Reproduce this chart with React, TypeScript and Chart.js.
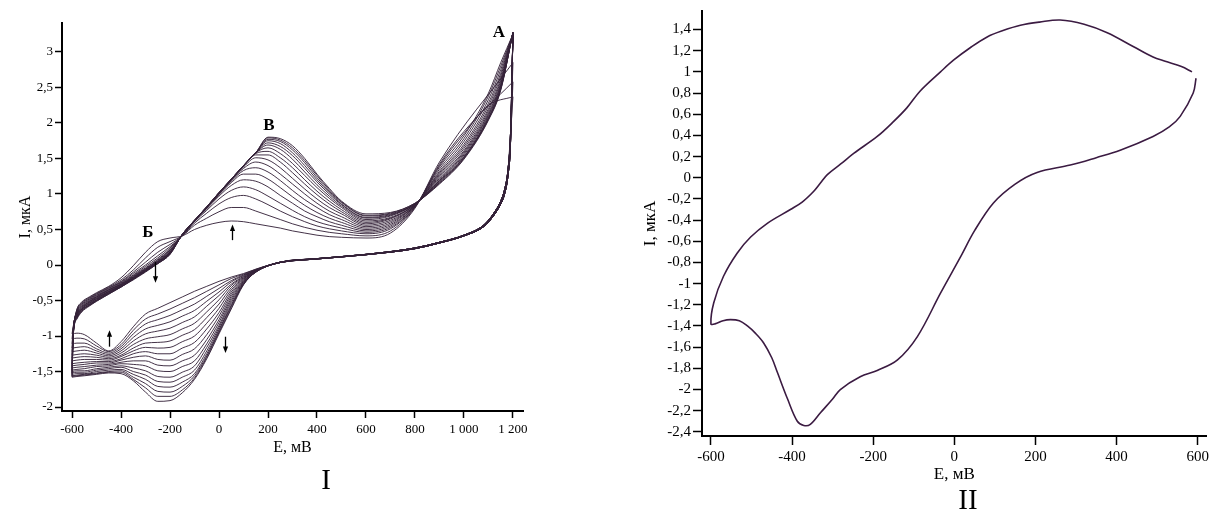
import React, { useEffect, useRef } from 'react';
import { Chart, registerables } from 'chart.js';

Chart.register(...registerables);

const SERIF = "'Liberation Serif', 'Times New Roman', serif";

// ---------------- Panel I: cyclic voltammograms, 18 cycles ----------------
const forwardPotentials = [-600, -595, -580, -560, -530, -500, -450, -400, -350, -300, -250, -200, -150, -100, -50, 0, 50, 100, 150, 200, 250, 300, 350, 400, 450, 500, 600, 700, 800, 900, 1000, 1100, 1150, 1200];

const forwardCurrents: (number | null)[][] = [
  [-0.97, -0.86, -0.62, -0.52, -0.45, -0.39, -0.30, -0.18, -0.01, 0.18, 0.33, 0.38, 0.41, 0.50, 0.56, 0.60, 0.62, 0.61, 0.58, 0.55, 0.52, 0.48, 0.45, 0.42, 0.40, 0.39, 0.38, 0.45, 0.80, 1.45, null, null, null, 2.85],
  [-1.04, -0.88, -0.63, -0.53, -0.46, -0.40, -0.31, -0.21, -0.07, 0.10, 0.25, 0.33, 0.41, 0.56, 0.66, 0.75, 0.81, 0.81, 0.76, 0.70, 0.64, 0.58, 0.53, 0.49, 0.46, 0.44, 0.41, 0.48, 0.81, 1.42, 1.88, null, null, 2.58],
  [-1.11, -0.89, -0.64, -0.54, -0.47, -0.41, -0.32, -0.23, -0.10, 0.04, 0.18, 0.29, 0.41, 0.59, 0.73, 0.86, 0.95, 0.98, 0.93, 0.85, 0.76, 0.68, 0.61, 0.55, 0.51, 0.48, 0.44, 0.51, 0.82, 1.40, 1.85, 2.25, null, 2.37],
  [-1.17, -0.90, -0.65, -0.55, -0.48, -0.42, -0.33, -0.24, -0.12, 0.00, 0.13, 0.26, 0.41, 0.61, 0.77, 0.93, 1.05, 1.10, 1.06, 0.97, 0.87, 0.77, 0.68, 0.61, 0.56, 0.52, 0.46, 0.53, 0.82, 1.38, 1.82, 2.42, 2.85, 3.25],
  [-1.22, -0.91, -0.66, -0.56, -0.49, -0.43, -0.34, -0.25, -0.14, -0.02, 0.10, 0.24, 0.42, 0.62, 0.79, 0.97, 1.12, 1.20, 1.18, 1.10, 0.98, 0.87, 0.76, 0.68, 0.61, 0.56, 0.48, 0.55, 0.83, 1.35, 1.78, 2.38, 2.80, 3.25],
  [-1.27, -0.92, -0.67, -0.57, -0.50, -0.44, -0.35, -0.26, -0.15, -0.04, 0.08, 0.22, 0.42, 0.62, 0.80, 0.99, 1.16, 1.28, 1.28, 1.21, 1.09, 0.96, 0.84, 0.74, 0.66, 0.60, 0.50, 0.57, 0.83, 1.32, 1.74, 2.33, 2.75, 3.26],
  [-1.31, -0.93, -0.68, -0.58, -0.51, -0.45, -0.35, -0.27, -0.16, -0.05, 0.07, 0.21, 0.42, 0.62, 0.81, 1.00, 1.18, 1.33, 1.37, 1.31, 1.19, 1.05, 0.92, 0.81, 0.71, 0.64, 0.52, 0.59, 0.84, 1.30, 1.70, 2.28, 2.70, 3.26],
  [-1.35, -0.94, -0.69, -0.59, -0.52, -0.45, -0.36, -0.27, -0.17, -0.06, 0.06, 0.20, 0.42, 0.62, 0.81, 1.00, 1.19, 1.36, 1.45, 1.40, 1.28, 1.14, 1.00, 0.87, 0.76, 0.68, 0.54, 0.61, 0.84, 1.28, 1.67, 2.24, 2.66, 3.26],
  [-1.39, -0.94, -0.70, -0.60, -0.52, -0.46, -0.37, -0.28, -0.17, -0.06, 0.05, 0.19, 0.42, 0.62, 0.81, 1.01, 1.20, 1.38, 1.51, 1.48, 1.37, 1.22, 1.07, 0.93, 0.81, 0.72, 0.56, 0.63, 0.84, 1.26, 1.64, 2.20, 2.62, 3.26],
  [-1.42, -0.95, -0.70, -0.60, -0.53, -0.47, -0.37, -0.28, -0.18, -0.07, 0.05, 0.18, 0.42, 0.62, 0.81, 1.01, 1.20, 1.39, 1.55, 1.55, 1.45, 1.30, 1.14, 0.99, 0.86, 0.75, 0.58, 0.65, 0.85, 1.24, 1.61, 2.17, 2.59, 3.26],
  [-1.45, -0.95, -0.71, -0.61, -0.54, -0.47, -0.38, -0.29, -0.18, -0.07, 0.04, 0.18, 0.42, 0.62, 0.81, 1.01, 1.20, 1.39, 1.57, 1.60, 1.51, 1.37, 1.20, 1.04, 0.90, 0.78, 0.60, 0.66, 0.85, 1.22, 1.59, 2.14, 2.56, 3.27],
  [-1.48, -0.96, -0.72, -0.62, -0.54, -0.48, -0.38, -0.29, -0.19, -0.08, 0.04, 0.17, 0.43, 0.62, 0.81, 1.01, 1.20, 1.40, 1.58, 1.65, 1.57, 1.43, 1.26, 1.09, 0.94, 0.81, 0.62, 0.67, 0.85, 1.20, 1.57, 2.12, 2.54, 3.27],
  [-1.50, -0.96, -0.72, -0.62, -0.55, -0.49, -0.39, -0.30, -0.19, -0.08, 0.03, 0.17, 0.43, 0.62, 0.81, 1.01, 1.20, 1.40, 1.58, 1.69, 1.63, 1.49, 1.31, 1.13, 0.97, 0.83, 0.64, 0.69, 0.86, 1.19, 1.55, 2.10, 2.52, 3.27],
  [-1.52, -0.97, -0.73, -0.63, -0.56, -0.49, -0.39, -0.30, -0.19, -0.08, 0.03, 0.16, 0.43, 0.63, 0.82, 1.01, 1.21, 1.40, 1.58, 1.72, 1.67, 1.54, 1.36, 1.17, 1.00, 0.85, 0.66, 0.70, 0.86, 1.18, 1.53, 2.08, 2.50, 3.27],
  [-1.54, -0.97, -0.74, -0.64, -0.56, -0.50, -0.40, -0.30, -0.20, -0.09, 0.03, 0.16, 0.43, 0.63, 0.82, 1.02, 1.21, 1.40, 1.58, 1.75, 1.71, 1.58, 1.40, 1.20, 1.02, 0.86, 0.67, 0.71, 0.86, 1.17, 1.52, 2.07, 2.49, 3.27],
  [-1.56, -0.98, -0.74, -0.64, -0.57, -0.50, -0.40, -0.31, -0.20, -0.09, 0.02, 0.16, 0.43, 0.63, 0.82, 1.02, 1.21, 1.40, 1.58, 1.77, 1.74, 1.62, 1.44, 1.23, 1.04, 0.88, 0.69, 0.72, 0.86, 1.16, 1.51, 2.06, 2.48, 3.27],
  [-1.57, -0.98, -0.75, -0.65, -0.57, -0.51, -0.41, -0.31, -0.20, -0.09, 0.02, 0.15, 0.43, 0.63, 0.82, 1.02, 1.21, 1.40, 1.58, 1.79, 1.76, 1.65, 1.47, 1.26, 1.06, 0.89, 0.70, 0.73, 0.87, 1.15, 1.50, 2.05, 2.47, 3.28],
  [-1.58, -0.99, -0.76, -0.66, -0.58, -0.51, -0.41, -0.31, -0.21, -0.10, 0.02, 0.15, 0.43, 0.63, 0.82, 1.02, 1.21, 1.40, 1.58, 1.80, 1.78, 1.68, 1.50, 1.28, 1.08, 0.90, 0.72, 0.74, 0.87, 1.14, 1.49, 2.04, 2.46, 3.28],
];

// reverse scan, common high-potential part (two slightly different groups of cycles)
const reverseRightPotentials = [1190, 1180, 1165, 1150, 1120, 1080, 1000, 900, 800, 600, 400, 250];
const reverseRightA = [1.85, 1.35, 1.05, 0.90, 0.72, 0.56, 0.42, 0.32, 0.24, 0.15, 0.09, 0.04];
const reverseRightB = [1.72, 1.27, 0.99, 0.86, 0.69, 0.54, 0.41, 0.31, 0.23, 0.145, 0.085, 0.035];

// reverse scan, low-potential part, per cycle
const reverseLeftPotentials = [150, 100, 50, 0, -50, -100, -150, -200, -250, -300, -350, -400, -450, -500, -550, -580, -600];
const reverseLeftCurrents: number[][] = [
  [-0.06, -0.12, -0.17, -0.23, -0.30, -0.37, -0.45, -0.53, -0.61, -0.69, -0.87, -1.08, -1.21, -1.10, -0.98, -0.96, -0.97],
  [-0.06, -0.13, -0.19, -0.28, -0.37, -0.46, -0.54, -0.62, -0.69, -0.76, -0.92, -1.12, -1.22, -1.14, -1.04, -1.03, -1.04],
  [-0.07, -0.14, -0.22, -0.33, -0.44, -0.55, -0.63, -0.71, -0.77, -0.83, -0.97, -1.15, -1.24, -1.18, -1.10, -1.10, -1.11],
  [-0.07, -0.15, -0.24, -0.38, -0.51, -0.64, -0.72, -0.80, -0.85, -0.90, -1.02, -1.18, -1.26, -1.21, -1.15, -1.16, -1.17],
  [-0.07, -0.16, -0.27, -0.43, -0.58, -0.73, -0.81, -0.89, -0.93, -0.97, -1.07, -1.21, -1.28, -1.24, -1.20, -1.21, -1.22],
  [-0.07, -0.17, -0.29, -0.49, -0.66, -0.82, -0.90, -0.98, -1.01, -1.04, -1.12, -1.24, -1.30, -1.27, -1.25, -1.26, -1.27],
  [-0.08, -0.18, -0.32, -0.55, -0.74, -0.91, -0.99, -1.07, -1.09, -1.10, -1.17, -1.27, -1.32, -1.30, -1.29, -1.30, -1.31],
  [-0.08, -0.19, -0.35, -0.61, -0.82, -1.00, -1.08, -1.16, -1.17, -1.16, -1.21, -1.29, -1.34, -1.33, -1.33, -1.34, -1.35],
  [-0.08, -0.20, -0.38, -0.67, -0.90, -1.09, -1.17, -1.25, -1.25, -1.22, -1.25, -1.32, -1.36, -1.36, -1.37, -1.38, -1.39],
  [-0.08, -0.21, -0.41, -0.72, -0.98, -1.18, -1.26, -1.34, -1.33, -1.28, -1.30, -1.34, -1.38, -1.38, -1.40, -1.41, -1.42],
  [-0.09, -0.22, -0.44, -0.77, -1.05, -1.27, -1.35, -1.42, -1.41, -1.35, -1.35, -1.37, -1.40, -1.41, -1.43, -1.44, -1.45],
  [-0.09, -0.23, -0.47, -0.81, -1.11, -1.35, -1.43, -1.50, -1.49, -1.42, -1.40, -1.39, -1.42, -1.43, -1.46, -1.47, -1.48],
  [-0.09, -0.24, -0.50, -0.85, -1.16, -1.42, -1.51, -1.58, -1.57, -1.49, -1.45, -1.42, -1.44, -1.46, -1.49, -1.49, -1.50],
  [-0.09, -0.25, -0.53, -0.88, -1.21, -1.48, -1.58, -1.65, -1.64, -1.55, -1.50, -1.44, -1.46, -1.48, -1.51, -1.51, -1.52],
  [-0.10, -0.26, -0.56, -0.91, -1.25, -1.53, -1.65, -1.72, -1.71, -1.61, -1.54, -1.47, -1.48, -1.50, -1.53, -1.53, -1.54],
  [-0.10, -0.27, -0.58, -0.93, -1.28, -1.56, -1.71, -1.79, -1.78, -1.67, -1.58, -1.49, -1.50, -1.52, -1.54, -1.55, -1.56],
  [-0.10, -0.27, -0.60, -0.95, -1.30, -1.59, -1.76, -1.85, -1.85, -1.73, -1.61, -1.51, -1.51, -1.53, -1.55, -1.56, -1.57],
  [-0.10, -0.28, -0.62, -0.97, -1.32, -1.61, -1.80, -1.91, -1.92, -1.79, -1.63, -1.53, -1.52, -1.54, -1.56, -1.57, -1.58],
];

const xTicksI = [-600, -400, -200, 0, 200, 400, 600, 800, 1000, 1200];
const xTickLabelsI = ['-600', '-400', '-200', '0', '200', '400', '600', '800', '1 000', '1 200'];
const yTicksI = [-2, -1.5, -1, -0.5, 0, 0.5, 1, 1.5, 2, 2.5, 3];
const yTickLabelsI = ['-2', '-1,5', '-1', '-0,5', '0', '0,5', '1', '1,5', '2', '2,5', '3'];

const peakLabels = ['А', 'Б', 'В'];
const peakLabelE = [1143, -290, 204];
const peakLabelI = [3.27, 0.45, 1.97];

const arrowE = [53, -261, -449, 24];
const arrowFromI = [0.35, 0.04, -1.15, -1.01];
const arrowToI = [0.57, -0.25, -0.92, -1.24];

// ---------------- Panel II: single voltammogram ----------------
const potentialsII = [586, 560, 520, 490, 441, 377, 320, 261, 210, 163, 120, 81, 40, -2, -34, -84, -117, -150, -190, -248, -280, -313, -330, -347, -375, -404, -461, -502, -535, -569, -593, -600, -590, -570, -552, -530, -510, -490, -470, -450, -436, -411, -387, -371, -355, -330, -300, -281, -232, -190, -140, -91, -34, 15, 50, 96, 150, 204, 286, 350, 409, 490, 530, 557, 589, 596];
const currentsII = [1.00, 1.05, 1.10, 1.14, 1.24, 1.37, 1.45, 1.49, 1.47, 1.44, 1.39, 1.33, 1.23, 1.11, 1.00, 0.82, 0.66, 0.53, 0.39, 0.23, 0.13, 0.03, -0.05, -0.13, -0.23, -0.30, -0.43, -0.56, -0.71, -0.93, -1.18, -1.38, -1.38, -1.35, -1.34, -1.35, -1.40, -1.47, -1.56, -1.70, -1.84, -2.09, -2.30, -2.34, -2.33, -2.22, -2.09, -2.00, -1.88, -1.82, -1.72, -1.50, -1.09, -0.75, -0.50, -0.24, -0.06, 0.05, 0.12, 0.19, 0.26, 0.39, 0.48, 0.58, 0.80, 0.94];

const xTicksII = [-600, -400, -200, 0, 200, 400, 600];
const xTickLabelsII = ['-600', '-400', '-200', '0', '200', '400', '600'];
const yTicksII = [-2.4, -2.2, -2, -1.8, -1.6, -1.4, -1.2, -1, -0.8, -0.6, -0.4, -0.2, 0, 0.2, 0.4, 0.6, 0.8, 1, 1.2, 1.4];
const yTickLabelsII = ['-2,4', '-2,2', '-2', '-1,8', '-1,6', '-1,4', '-1,2', '-1', '-0,8', '-0,6', '-0,4', '-0,2', '0', '0,2', '0,4', '0,6', '0,8', '1', '1,2', '1,4'];

// ---------------------------------------------------------------
const LINE_I = 'rgba(52, 34, 56, 0.92)';
const LINE_II = '#3b1b42';

function buildDatasetsI() {
  const sets: any[] = [];
  forwardCurrents.forEach((row, k) => {
    const fwd = forwardPotentials
      .map((e, i) => ({ x: e, y: row[i] }))
      .filter((p) => p.y !== null);
    const endValue = row[row.length - 1];
    const right = k % 2 === 0 ? reverseRightA : reverseRightB;
    const rev = [{ x: 1200, y: endValue }]
      .concat(reverseRightPotentials.map((e, i) => ({ x: e, y: right[i] })))
      .concat(reverseLeftPotentials.map((e, i) => ({ x: e, y: reverseLeftCurrents[k][i] })));
    const common = {
      showLine: true,
      borderColor: LINE_I,
      borderWidth: 1,
      pointRadius: 0,
      fill: false,
      cubicInterpolationMode: 'monotone',
    };
    sets.push({ ...common, data: fwd });
    sets.push({ ...common, data: rev });
  });
  return sets;
}

const annotationPlugin = {
  id: 'cvAnnotations',
  afterDatasetsDraw(chart: any) {
    const { ctx } = chart;
    const x = chart.scales.x;
    const y = chart.scales.y;
    ctx.save();
    ctx.fillStyle = '#000';
    ctx.strokeStyle = '#000';
    ctx.font = `bold 17px ${SERIF}`;
    ctx.textAlign = 'center';
    ctx.textBaseline = 'middle';
    peakLabels.forEach((t, i) => {
      ctx.fillText(t, x.getPixelForValue(peakLabelE[i]), y.getPixelForValue(peakLabelI[i]));
    });
    ctx.lineWidth = 1.3;
    arrowE.forEach((e, i) => {
      const px = Math.round(x.getPixelForValue(e)) + 0.5;
      const y0 = y.getPixelForValue(arrowFromI[i]);
      const y1 = y.getPixelForValue(arrowToI[i]);
      const dir = Math.sign(y1 - y0);
      ctx.beginPath();
      ctx.moveTo(px, y0);
      ctx.lineTo(px, y1 - dir * 4);
      ctx.stroke();
      ctx.beginPath();
      ctx.moveTo(px, y1);
      ctx.lineTo(px - 2.6, y1 - dir * 6.5);
      ctx.lineTo(px + 2.6, y1 - dir * 6.5);
      ctx.closePath();
      ctx.fill();
    });
    ctx.restore();
  },
};

function axisStyle(tickLength: number) {
  return {
    grid: {
      display: true,
      drawOnChartArea: false,
      drawTicks: true,
      tickLength,
      tickColor: '#000',
      tickWidth: 1.5,
      color: '#000',
    },
    border: { display: true, color: '#000', width: 2 },
  };
}

function configI(): any {
  return {
    type: 'scatter',
    data: { datasets: buildDatasetsI() },
    plugins: [annotationPlugin],
    options: {
      animation: false,
      responsive: false,
      devicePixelRatio: 1,
      events: [],
      layout: { padding: { left: 10, top: 23, right: 37, bottom: 50 } },
      plugins: { legend: { display: false }, tooltip: { enabled: false } },
      scales: {
        x: {
          type: 'linear',
          min: -641,
          max: 1241,
          ...axisStyle(7),
          afterBuildTicks: (s: any) => {
            s.ticks = xTicksI.map((v) => ({ value: v }));
          },
          afterFit: (s: any) => {
            s.height = 50;
          },
          ticks: {
            autoSkip: false,
            maxRotation: 0,
            minRotation: 0,
            padding: 4,
            color: '#000',
            font: { family: SERIF, size: 13 },
            callback: (_v: any, i: number) => xTickLabelsI[i],
          },
          title: {
            display: true,
            text: 'E, мВ',
            color: '#000',
            font: { family: SERIF, size: 16 },
            padding: { top: 0, bottom: 4 },
          },
        },
        y: {
          type: 'linear',
          min: -2.056,
          max: 3.408,
          ...axisStyle(7),
          afterBuildTicks: (s: any) => {
            s.ticks = yTicksI.map((v) => ({ value: v }));
          },
          afterFit: (s: any) => {
            s.width = 52;
          },
          ticks: {
            autoSkip: false,
            padding: 2,
            color: '#000',
            font: { family: SERIF, size: 13 },
            callback: (_v: any, i: number) => yTickLabelsI[i],
          },
          title: {
            display: true,
            text: 'I, мкА',
            color: '#000',
            font: { family: SERIF, size: 16 },
            padding: { top: 6, bottom: 0 },
          },
        },
      },
    },
  };
}

function configII(): any {
  return {
    type: 'scatter',
    data: {
      datasets: [
        {
          showLine: true,
          data: potentialsII.map((e, i) => ({ x: e, y: currentsII[i] })),
          borderColor: LINE_II,
          borderWidth: 1.6,
          pointRadius: 0,
          fill: false,
          tension: 0.35,
        },
      ],
    },
    options: {
      animation: false,
      responsive: false,
      devicePixelRatio: 1,
      events: [],
      layout: { padding: { left: 36, top: 11, right: 5, bottom: 25 } },
      plugins: { legend: { display: false }, tooltip: { enabled: false } },
      scales: {
        x: {
          type: 'linear',
          min: -622,
          max: 622,
          ...axisStyle(9),
          afterBuildTicks: (s: any) => {
            s.ticks = xTicksII.map((v) => ({ value: v }));
          },
          afterFit: (s: any) => {
            s.height = 50;
          },
          ticks: {
            autoSkip: false,
            maxRotation: 0,
            minRotation: 0,
            padding: 3,
            color: '#000',
            font: { family: SERIF, size: 15 },
            callback: (_v: any, i: number) => xTickLabelsII[i],
          },
          title: {
            display: true,
            text: 'E, мВ',
            color: '#000',
            font: { family: SERIF, size: 17 },
            padding: { top: 0, bottom: 1 },
          },
        },
        y: {
          type: 'linear',
          min: -2.439,
          max: 1.575,
          ...axisStyle(9),
          afterBuildTicks: (s: any) => {
            s.ticks = yTicksII.map((v) => ({ value: v }));
          },
          afterFit: (s: any) => {
            s.width = 66;
          },
          ticks: {
            autoSkip: false,
            padding: 2,
            color: '#000',
            font: { family: SERIF, size: 15 },
            callback: (_v: any, i: number) => yTickLabelsII[i],
          },
          title: {
            display: true,
            text: 'I, мкА',
            color: '#000',
            font: { family: SERIF, size: 17 },
            padding: { top: 4, bottom: 0 },
          },
        },
      },
    },
  };
}

function ChartCanvas(props: { make: () => any; left: number; width: number; height: number }) {
  const ref = useRef<HTMLCanvasElement>(null);
  useEffect(() => {
    const chart = new Chart(ref.current as HTMLCanvasElement, props.make());
    return () => chart.destroy();
  }, []);
  return (
    <canvas
      ref={ref}
      width={props.width}
      height={props.height}
      style={{ position: 'absolute', left: props.left, top: 0, width: props.width, height: props.height }}
    />
  );
}

const romanStyle: React.CSSProperties = {
  position: 'absolute',
  width: 80,
  textAlign: 'center',
  fontFamily: SERIF,
  fontSize: 29,
  lineHeight: '29px',
  color: '#000',
};

export default function App() {
  return (
    <div style={{ position: 'absolute', left: 0, top: 0, width: 1212, height: 511, background: '#fff', overflow: 'hidden' }}>
      <ChartCanvas make={configI} left={0} width={560} height={511} />
      <ChartCanvas make={configII} left={600} width={612} height={511} />
      <div style={{ ...romanStyle, left: 286, top: 465 }}>I</div>
      <div style={{ ...romanStyle, left: 928, top: 485 }}>II</div>
    </div>
  );
}
